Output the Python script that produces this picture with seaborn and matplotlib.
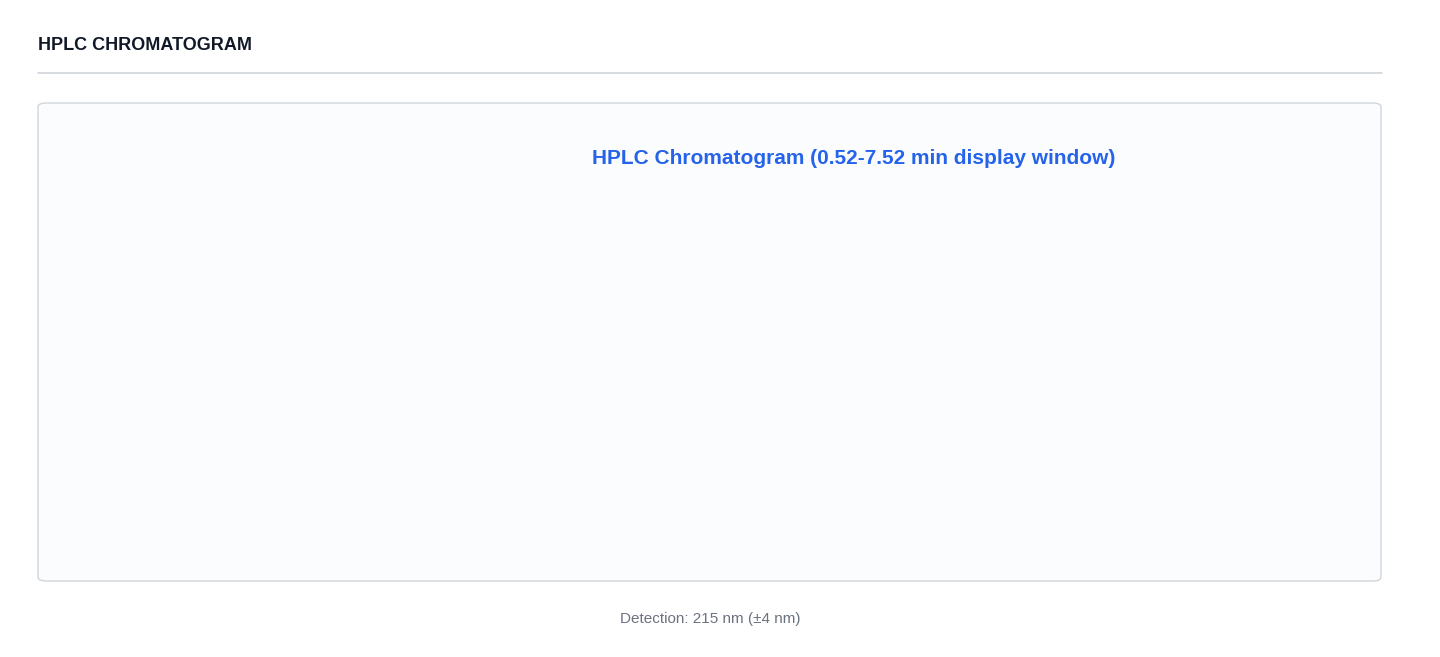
import matplotlib
matplotlib.use("Agg")
import matplotlib.pyplot as plt
import seaborn as sns
import pandas as pd
from matplotlib.patches import FancyBboxPatch

time_min = [0.5, 0.86, 1.13, 1.24, 1.40, 1.66, 1.82, 2.04, 2.22, 2.26, 2.30, 2.35, 2.41, 2.46, 2.49,
            2.53, 2.57, 2.62, 2.67, 2.73, 2.78, 2.83, 2.88, 2.94, 3.05, 3.26, 3.37, 3.58, 3.74,
            3.90, 4.33, 4.86, 5.07, 5.39, 5.93, 6.8]
absorbance = [-354000, -250000, 10000, 104000, 156000, 177000, 188000, 156000, 156000, 271000, 948000,
              1365000, 1678000, 2250000, 2345000, 2200000, 1574000, 740000, 480000, 375000, 271000,
              146000, 115000, 146000, 167000, 156000, 167000, 219000, 198000, 156000, 156000,
              167000, 146000, 146000, 156000, 146000]
x_ticks = [0.5, 1.2, 1.9, 2.6, 3.3, 4.0, 4.7, 5.4, 6.1, 6.8]
x_tick_labels = ["0.5", "1.2", "1.9", "2.6", "3.3", "4.0", "4.7", "5.4", "6.1", "6."]
y_ticks = [0, 514896, 1029792, 1544688, 2059584, 2574480]
peak_time = 2.49
peak_label = "2.52 min"

sns.set_theme(style="white")
plt.rcParams['font.family'] = ['Liberation Sans', 'DejaVu Sans']

fig = plt.figure(figsize=(14.4, 6.57), dpi=100)
fig.patch.set_facecolor("white")
fig.text(38/1440, 1-45/657, "HPLC CHROMATOGRAM", fontsize=13, fontweight="bold",
         color="#111827", va="center")
fig.add_artist(plt.Line2D([38/1440, 1382/1440], [1-73/657, 1-73/657], color="#d1d5db", lw=1.2))
fig.add_artist(FancyBboxPatch((38/1440, 1-581/657), 1343/1440, 478/657,
                              boxstyle="round,pad=0,rounding_size=0.006", fc="#fbfcfd",
                              ec="#d1d5db", lw=1, transform=fig.transFigure))
fig.text(854/1440, 1-158/657, "HPLC Chromatogram (0.52-7.52 min display window)", fontsize=15,
         fontweight="bold", color="#2563eb", ha="center", va="center")
fig.text(710/1440, 1-619/657, "Detection: 215 nm (±4 nm)", fontsize=11, color="#6b7280",
         ha="center", va="center")

ax = fig.add_axes([182/1440, 1-487/657, 1183/1440, 283/657])
ax.set_facecolor("none")
df = pd.DataFrame({"t": time_min, "a": absorbance})
sns.lineplot(data=df, x="t", y="a", ax=ax, color="#2563eb", lw=1.8)
ax.set_xlim(0.5, 6.8)
ax.set_ylim(-365000, 2574480)
ax.set_xticks(x_ticks)
ax.set_xticklabels(x_tick_labels)
ax.set_yticks(y_ticks)
ax.set_yticklabels([str(v) for v in y_ticks])
ax.tick_params(colors="#9ca3af", labelsize=10, length=0)
ax.tick_params(axis="x", pad=-12)
for s in ["top", "right", "bottom"]:
    ax.spines[s].set_visible(False)
ax.spines["left"].set_bounds(0, 2574480)
ax.spines["left"].set_color("#374151")
ax.spines["left"].set_linewidth(1.5)
for t in x_ticks:
    ax.plot([t, t], [0, 2574480], color="#eef0f3", lw=1, zorder=0)
for v in y_ticks:
    ax.plot([0.5, 6.8], [v, v], color="#eef0f3", lw=1, zorder=0)
ax.axhline(0, color="#374151", lw=1.5)
ax.axvline(peak_time, ymin=0.0, ymax=1.04, color="#dc2626", ls="--", lw=1.5, clip_on=False)
ax.text(peak_time, 2574480 * 1.035, peak_label, color="#dc2626", fontsize=10,
        fontweight="bold", ha="center", va="bottom")
ax.set_xlabel("Retention Time (min)", fontsize=12, fontweight="bold", color="#111827", labelpad=28)
ax.set_ylabel("Absorbance (mAU)", fontsize=12, fontweight="bold", color="#111827", labelpad=8)
ax.yaxis.set_label_coords(-0.078, 0.55)

fig.savefig("out.png", dpi=100)
